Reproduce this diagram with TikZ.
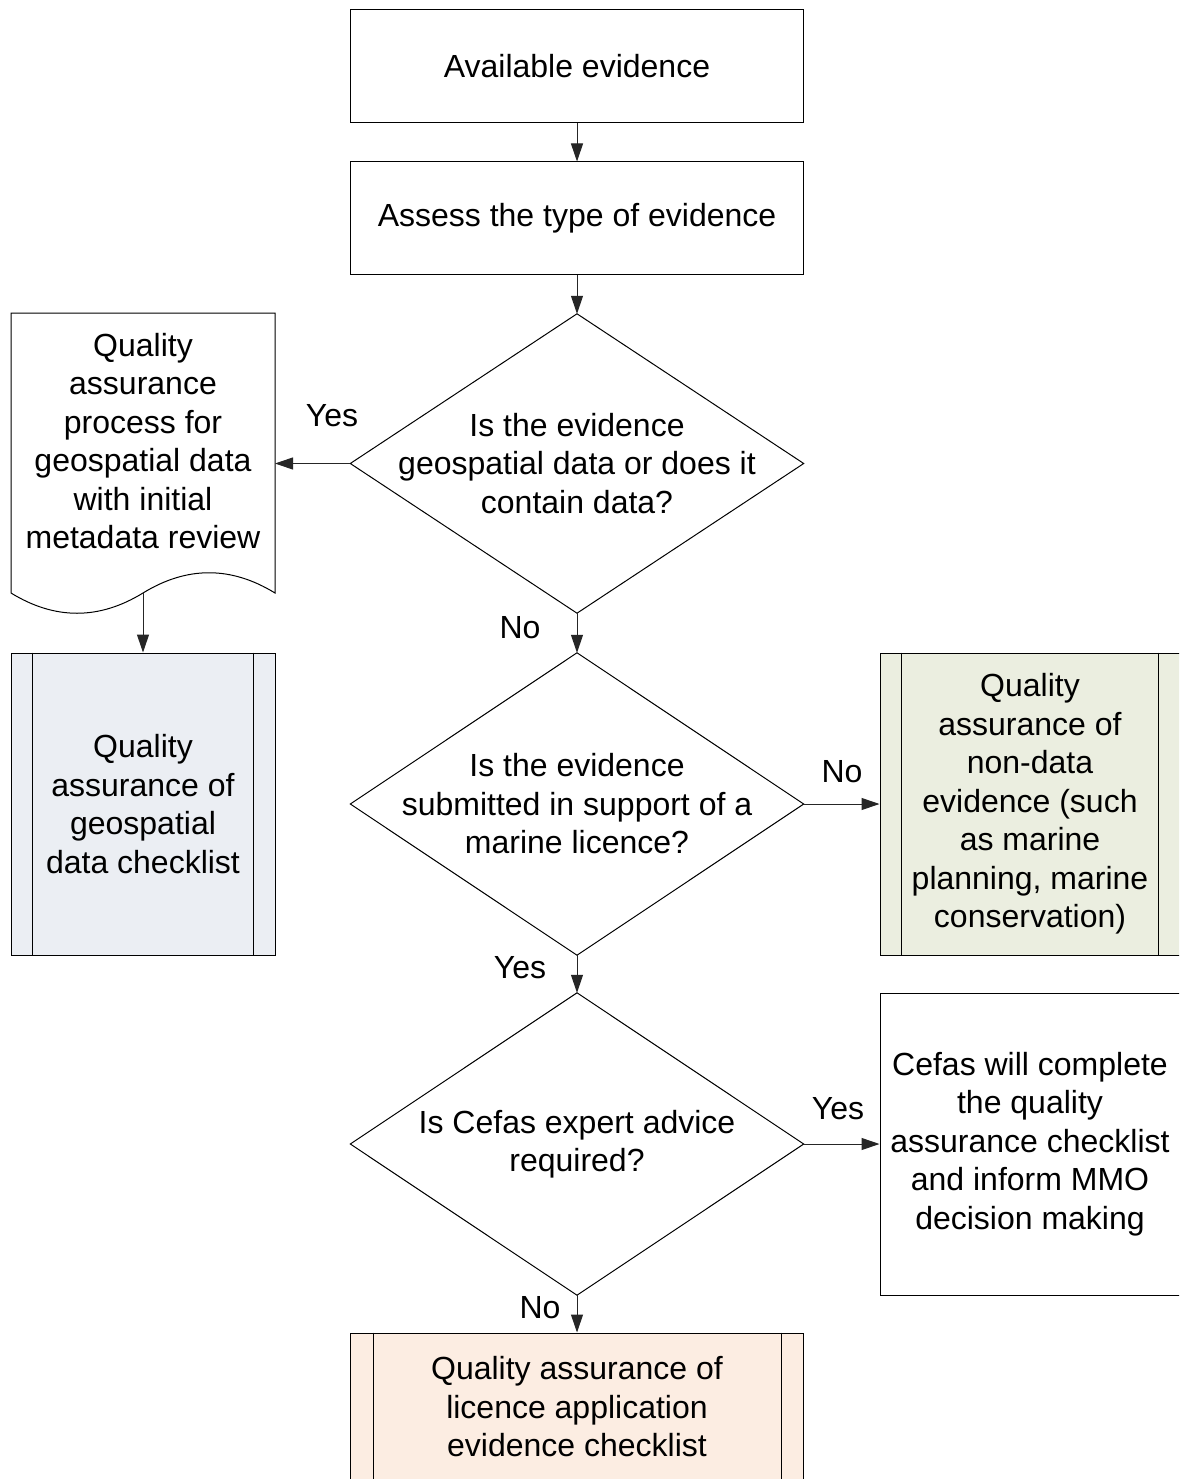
\documentclass[tikz,border=0pt]{standalone}
\usepackage{fontspec}
\setmainfont{Liberation Sans}
\usetikzlibrary{arrows.meta}
\definecolor{bluefill}{HTML}{EBEEF3}
\definecolor{greenfill}{HTML}{EBEEE0}
\definecolor{peachfill}{HTML}{FCEDE2}
\begin{document}
\begin{tikzpicture}[x=1pt,y=-1pt,
  font=\fontsize{32}{38.5}\selectfont,
  box/.style={draw=black, line width=1pt, rectangle, inner sep=0pt, align=center},
  ghost/.style={rectangle, inner sep=0pt, align=center},
  arr/.style={draw=black!85, line width=1pt, -{Triangle[length=18pt,width=12pt]}},
  lbl/.style={inner sep=0pt}]
\useasboundingbox (0,0) rectangle (1179,1479);
\clip (0,0) rectangle (1179,1479);
\fill[white] (0,0) rectangle (1179,1479);

% top boxes
\node[box, minimum width=453, minimum height=113] (avail) at (577,66.5) {Available evidence};
\node[box, minimum width=453, minimum height=112] (assess) at (577,218) {Assess the type of evidence};

% diamond 1
\node[ghost, minimum width=453, minimum height=299] (d1) at (577,463.5) {Is the evidence\\geospatial data or does it\\contain data?};
\draw[line width=1pt] (d1.north) -- (d1.east) -- (d1.south) -- (d1.west) -- cycle;

% document shape
\draw[line width=1pt, fill=white] (11,313) -- (275,313) -- (275,593)
  .. controls (231,566) and (187,566) .. (143,593)
  .. controls (99,620) and (55,620) .. (11,593) -- cycle;
\node[ghost] (doc) at (143,441) {Quality\\assurance\\process for\\geospatial data\\with initial\\metadata review};
\coordinate (docb) at (143,593);
\coordinate (docr) at (275,463.5);

% predefined process left
\node[box, fill=bluefill, minimum width=264, minimum height=302] (qgeo) at (143,804) {Quality\\assurance of\\geospatial\\data checklist};
\draw[line width=1pt] ([xshift=22pt]qgeo.north west) -- ([xshift=22pt]qgeo.south west);
\draw[line width=1pt] ([xshift=-22pt]qgeo.north east) -- ([xshift=-22pt]qgeo.south east);

% diamond 2
\node[ghost, minimum width=453, minimum height=302] (d2) at (577,804) {Is the evidence\\submitted in support of a\\marine licence?};
\draw[line width=1pt] (d2.north) -- (d2.east) -- (d2.south) -- (d2.west) -- cycle;

% green box
\node[box, fill=greenfill, minimum width=300, minimum height=302] (qnon) at (1030,804) {Quality\\assurance of\\non-data\\evidence (such\\as marine\\planning, marine\\conservation)};
\draw[line width=1pt] ([xshift=22pt]qnon.north west) -- ([xshift=22pt]qnon.south west);
\draw[line width=1pt] ([xshift=-22pt]qnon.north east) -- ([xshift=-22pt]qnon.south east);

% diamond 3
\node[ghost, minimum width=453, minimum height=302] (d3) at (577,1144) {Is Cefas expert advice\\required?};
\draw[line width=1pt] (d3.north) -- (d3.east) -- (d3.south) -- (d3.west) -- cycle;

% cefas box
\node[box, minimum width=300, minimum height=302] (cefas) at (1030,1144) {Cefas will complete\\the quality\\assurance checklist\\and inform MMO\\decision making};

% bottom box
\node[box, fill=peachfill, minimum width=453, minimum height=160] (qlic) at (577,1413) {};
\draw[line width=1pt] ([xshift=23pt]qlic.north west) -- ([xshift=23pt]qlic.south west);
\draw[line width=1pt] ([xshift=-23pt]qlic.north east) -- ([xshift=-23pt]qlic.south east);
\node[ghost] (qlictext) at (577,1407) {Quality assurance of\\licence application\\evidence checklist};

% connectors
\draw[arr] (avail.south) -- (assess.north);
\draw[arr] (assess.south) -- (d1.north);
\draw[arr] (d1.west) -- (docr);
\draw[arr] (docb) -- (qgeo.north);
\draw[arr] (d1.south) -- (d2.north);
\draw[arr] (d2.east) -- (qnon.west);
\draw[arr] (d2.south) -- (d3.north);
\draw[arr] (d3.east) -- (cefas.west);
\draw[arr] (d3.south) -- (qlic.north);

% labels
\node[lbl] (l1) at (332,416) {Yes};
\node[lbl] (l2) at (520,628) {No};
\node[lbl] (l3) at (842,772) {No};
\node[lbl] (l4) at (520,968) {Yes};
\node[lbl] (l5) at (838,1109) {Yes};
\node[lbl] (l6) at (540,1308) {No};
\end{tikzpicture}
\end{document}
